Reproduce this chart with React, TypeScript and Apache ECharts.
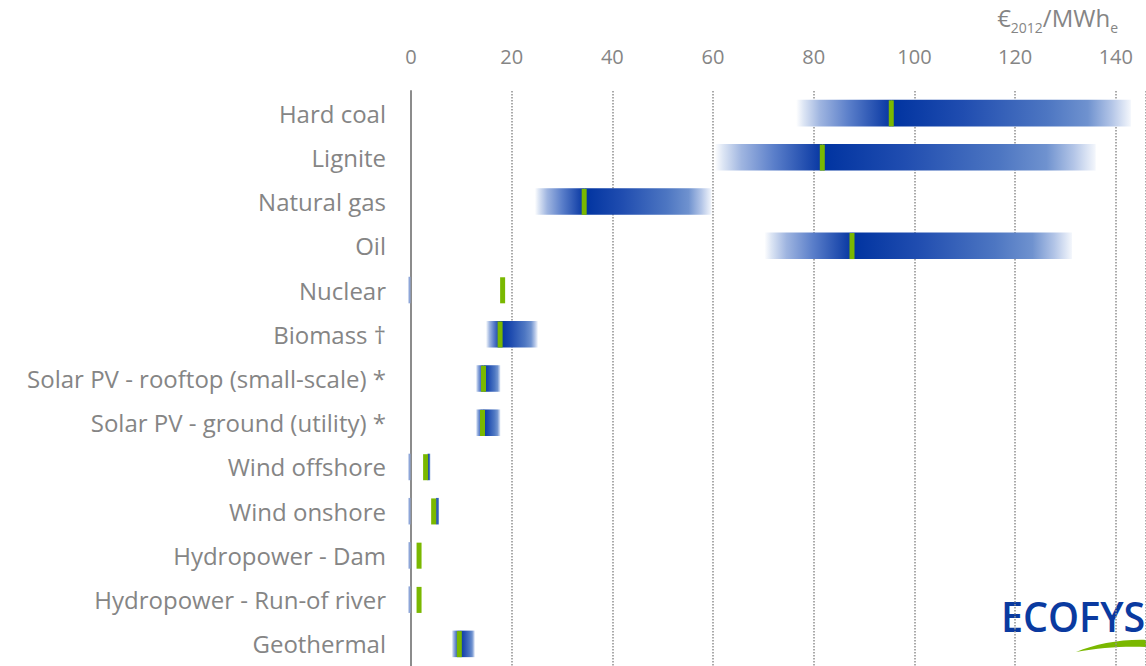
import React, { useEffect, useRef } from 'react';
import * as echarts from 'echarts';

const categories = [
  'Hard coal',
  'Lignite',
  'Natural gas',
  'Oil',
  'Nuclear',
  'Biomass †',
  'Solar PV - rooftop (small-scale) *',
  'Solar PV - ground (utility) *',
  'Wind offshore',
  'Wind onshore',
  'Hydropower - Dam',
  'Hydropower - Run-of river',
  'Geothermal',
];
// lower end of the cost range (null = no range drawn)
const rangeMin = [76.5, 60.3, 24.6, 70.2, null, 14.9, 12.9, 12.9, 3.3, 5.0, null, null, 8.1];
// typical / reference value (green marker)
const typicalValue = [95.4, 81.7, 34.4, 87.6, 18.2, 17.7, 14.4, 14.2, 2.9, 4.5, 1.6, 1.6, 9.6];
// upper end of the cost range
const rangeMax = [143.0, 136.0, 59.7, 131.3, null, 25.2, 17.8, 17.8, 3.9, 5.6, null, null, 12.7];
// categories that show a small stub at zero
const zeroStub = [0, 0, 0, 0, 1, 0, 0, 0, 1, 1, 1, 1, 0];

const xMin = 0;
const xMax = 146;
const xInterval = 20;

const FONT = '"Open Sans", Lato, sans-serif';
const GREY = '#858585';

const swooshPath = 'M0 14 C 20 6, 45 1, 72 2 L 72 9 C 50 8, 25 9, 0 14 Z';

export default function App() {
  const ref = useRef<HTMLDivElement>(null);

  useEffect(() => {
    if (!ref.current) return;
    try {
      echarts.graphic.registerShape('swoosh', echarts.graphic.extendPath(swooshPath, {}));
    } catch (e) {}
    const chart = echarts.init(ref.current, undefined, { renderer: 'svg' });

    const data = categories.map((_, i) => {
      const mid = typicalValue[i];
      const lo = rangeMin[i] == null ? mid : (rangeMin[i] as number);
      const hi = rangeMax[i] == null ? mid : (rangeMax[i] as number);
      return [i, lo, mid, hi, zeroStub[i]];
    });

    const leftGrad = () =>
      new echarts.graphic.LinearGradient(0, 0, 1, 0, [
        { offset: 0, color: 'rgba(255,255,255,1)' },
        { offset: 0.08, color: '#dce5f4' },
        { offset: 0.25, color: '#9fb5e0' },
        { offset: 0.55, color: '#5b7fca' },
        { offset: 1, color: '#0636a2' },
      ]);
    const rightGrad = () =>
      new echarts.graphic.LinearGradient(0, 0, 1, 0, [
        { offset: 0, color: '#0033a0' },
        { offset: 0.3, color: '#204db0' },
        { offset: 0.65, color: '#4d76c2' },
        { offset: 0.82, color: '#6f92cf' },
        { offset: 0.92, color: '#b3c5e7' },
        { offset: 1, color: '#f4f7fc' },
      ]);

    const option: any = {
      animation: false,
      grid: { left: 411, top: 91, width: 736, height: 580, containLabel: false },
      xAxis: {
        type: 'value',
        position: 'top',
        min: xMin,
        max: xMax,
        interval: xInterval,
        axisLine: { show: false },
        axisTick: { show: false },
        axisLabel: {
          color: GREY,
          fontSize: 20,
          fontFamily: FONT,
          margin: 25,
          showMaxLabel: false,
        },
        splitLine: {
          show: true,
          lineStyle: { color: '#8f8f8f', width: 1.5, type: [1.5, 1.5] },
        },
      },
      yAxis: {
        type: 'category',
        data: categories,
        inverse: true,
        axisLine: { show: true, lineStyle: { color: '#8c8c8c', width: 2 } },
        axisTick: { show: false },
        axisLabel: { color: GREY, fontSize: 24, fontFamily: FONT, margin: 25 },
        splitLine: { show: false },
      },
      series: [
        {
          type: 'custom',
          encode: { y: 0, x: [1, 2, 3] },
          data,
          clip: false,
          renderItem: (params: any, api: any) => {
            const cat = api.value(0);
            const lo = api.value(1);
            const mid = api.value(2);
            const hi = api.value(3);
            const stub = api.value(4);
            const pLo = api.coord([lo, cat]);
            const pMid = api.coord([mid, cat]);
            const pHi = api.coord([hi, cat]);
            const pZero = api.coord([0, cat]);
            const band = api.size([0, 1])[1];
            const h = band * 0.6;
            const y = pMid[1] - h / 2;
            const children: any[] = [];
            if (stub) {
              children.push({
                type: 'rect',
                shape: { x: pZero[0] - 2.5, y, width: 2, height: h },
                style: { fill: '#8ea6d8' },
              });
            }
            if (pMid[0] > pLo[0] + 0.5) {
              children.push({
                type: 'rect',
                shape: { x: pLo[0], y, width: pMid[0] - pLo[0], height: h },
                style: { fill: leftGrad() },
              });
            }
            const rStart = Math.max(pLo[0], pMid[0]);
            if (pHi[0] > rStart + 0.5) {
              children.push({
                type: 'rect',
                shape: { x: rStart, y, width: pHi[0] - rStart, height: h },
                style: { fill: rightGrad() },
              });
            }
            children.push({
              type: 'rect',
              shape: { x: pMid[0] - 2.5, y: y + 0.5, width: 5, height: h - 0.5 },
              style: { fill: '#7ab800' },
            });
            return { type: 'group', children };
          },
        },
      ],
      graphic: [
        {
          type: 'text',
          right: 28,
          top: 5,
          style: {
            text: '{a|€}{b|2012}{a|/MWh}{b|e}',
            rich: {
              a: { fontSize: 24, fontFamily: FONT, fill: GREY, lineHeight: 29, verticalAlign: 'top' },
              b: { fontSize: 14, fontFamily: FONT, fill: GREY, lineHeight: 14, verticalAlign: 'bottom' },
            },
          },
        },
        {
          type: 'text',
          x: 1001,
          y: 595,
          scaleX: 0.94,
          style: {
            text: 'ECOFYS',
            fontSize: 42,
            fontWeight: 600,
            fontFamily: '"Open Sans", "DejaVu Sans", sans-serif',
            fill: '#0a3aa0',
          },
        },
        {
          type: 'swoosh',
          x: 1076,
          y: 638,
          style: { fill: '#7ab800' },
        },
      ],
    };

    chart.setOption(option);
    return () => chart.dispose();
  }, []);

  return (
    <div
      ref={ref}
      style={{ position: 'absolute', left: 0, top: 0, width: 1146, height: 666, background: '#fff' }}
    />
  );
}
